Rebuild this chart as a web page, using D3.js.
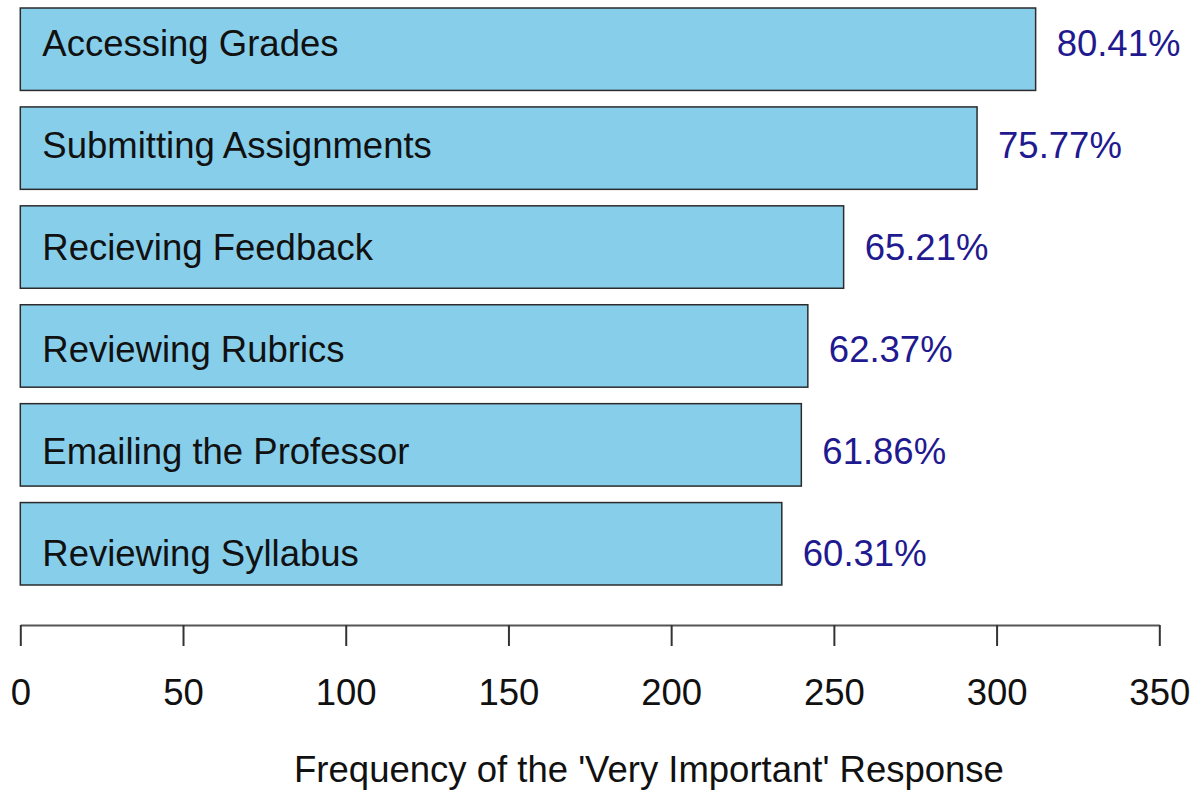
<!DOCTYPE html>
<html>
<head>
<meta charset="utf-8">
<script src="https://cdn.jsdelivr.net/npm/d3@7"></script>
<style>
	body { margin: 0; background: #fff; }
	text { font-family: "Liberation Sans", Arial, sans-serif; }
</style>
</head>
<body>
<div id="chart"></div>
<script>
// data
var categories = ["Accessing Grades", "Submitting Assignments", "Recieving Feedback",
	"Reviewing Rubrics", "Emailing the Professor", "Reviewing Syllabus"]
var counts = [312, 294, 253, 242, 240, 234]
var percents = ["80.41%", "75.77%", "65.21%", "62.37%", "61.86%", "60.31%"]
var xTicks = [0, 50, 100, 150, 200, 250, 300, 350]
var xTitle = "Frequency of the 'Very Important' Response"

var width = 1196, height = 791
var fontSize = 36.5

var svg = d3.select("#chart")
	.append("svg")
	.attr("width", width)
	.attr("height", height)

var x = d3.scaleLinear()
	.domain([0, 350])
	.range([20.3, 1159.3])

// barplot style spacing: width 1, space 0.2
var y = d3.scaleBand()
	.domain(categories)
	.range([8, 585])
	.paddingInner(0.2 / 1.2)
	.paddingOuter(0)

// the labels sit on their own evenly spaced grid
var labelY = d3.scalePoint()
	.domain(categories)
	.range([56, 566])

let rows = categories.map((c, i) => ({name: c, count: counts[i], pct: percents[i]}))

svg.selectAll(".bar")
	.data(rows)
	.enter()
	.append("rect")
	.attr("class", "bar")
	.attr("x", x(0))
	.attr("y", d => y(d.name))
	.attr("width", d => x(d.count) - x(0))
	.attr("height", y.bandwidth())
	.attr("fill", "#87CEEB")
	.attr("stroke", "#2b2b2b")
	.attr("stroke-width", 1.5)

svg.selectAll(".name")
	.data(rows)
	.enter()
	.append("text")
	.attr("class", "name")
	.attr("x", x(0) + 22)
	.attr("y", d => labelY(d.name))
	.attr("font-size", fontSize)
	.attr("fill", "#111")
	.text(d => d.name)

svg.selectAll(".pct")
	.data(rows)
	.enter()
	.append("text")
	.attr("class", "pct")
	.attr("x", d => x(d.count) + 21)
	.attr("y", d => labelY(d.name))
	.attr("font-size", fontSize)
	.attr("fill", "#1f1a8f")
	.text(d => d.pct)

let xAxis = d3.axisBottom(x)
	.tickValues(xTicks)
	.tickSize(21)
	.tickPadding(33)
	.tickSizeOuter(0)

let axisG = svg.append("g")
	.attr("transform", "translate(0,625)")
	.call(xAxis)

axisG.select(".domain")
	.attr("stroke", "#555")
	.attr("stroke-width", 2)
axisG.selectAll(".tick line")
	.attr("stroke", "#333")
	.attr("stroke-width", 2)
axisG.selectAll(".tick text")
	.attr("font-size", fontSize)
	.attr("font-family", "Liberation Sans, Arial, sans-serif")
	.attr("fill", "#111")

svg.append("text")
	.attr("x", 649)
	.attr("y", 782)
	.attr("text-anchor", "middle")
	.attr("font-size", fontSize)
	.attr("fill", "#111")
	.text(xTitle)
</script>
</body>
</html>
